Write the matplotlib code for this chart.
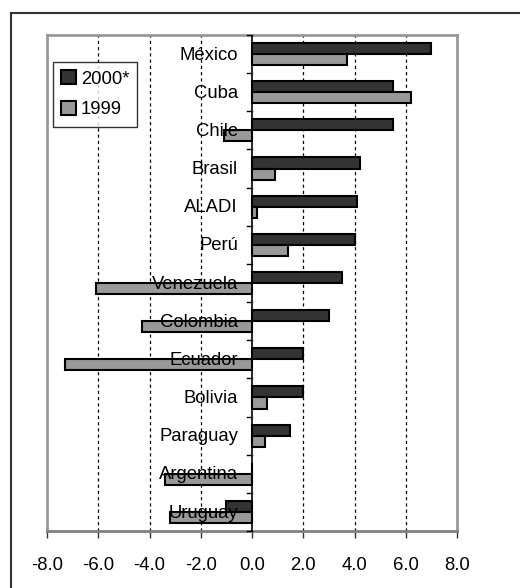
import matplotlib
matplotlib.use("Agg")
import matplotlib.pyplot as plt
from matplotlib.patches import Patch
from matplotlib.lines import Line2D

plt.rcParams['font.family'] = ['Liberation Sans', 'DejaVu Sans']

categories = ["México", "Cuba", "Chile", "Brasil", "ALADI", "Perú", "Venezuela",
              "Colombia", "Ecuador", "Bolivia", "Paraguay", "Argentina", "Uruguay"]
values_2000 = [7.0, 5.5, 5.5, 4.2, 4.1, 4.0, 3.5, 3.0, 2.0, 2.0, 1.5, 0.0, -1.0]
values_1999 = [3.7, 6.2, -1.1, 0.9, 0.2, 1.4, -6.1, -4.3, -7.3, 0.6, 0.5, -3.4, -3.2]
xticks = [-8.0, -6.0, -4.0, -2.0, 0.0, 2.0, 4.0, 6.0, 8.0]
series_names = ["2000*", "1999"]

W, H = 520, 588
fig = plt.figure(figsize=(W / 100, H / 100), dpi=100)
ax = fig.add_axes([47 / W, 1 - 531 / H, (457 - 47) / W, (531 - 35) / H])

dark = "#333333"
light = "#999999"
bh = 0.29
n = len(categories)
ys = list(range(n))
ax.barh([y - bh / 2 for y in ys], values_2000, height=bh, color=dark,
        edgecolor="black", linewidth=1.5, zorder=3)
ax.barh([y + bh / 2 for y in ys], values_1999, height=bh, color=light,
        edgecolor="black", linewidth=1.5, zorder=3)

ax.set_xlim(-8, 8)
ax.set_ylim(n - 0.5, -0.5)

# grid
for x in xticks[1:-1]:
    if x != 0:
        ax.axvline(x, color="black", linestyle=(0, (2.5, 2.5)), linewidth=0.9, zorder=1)

# y axis at zero
ax.axvline(0, color="black", linewidth=1.2, zorder=4)
for b in range(n + 1):
    yb = b - 0.5
    ax.plot([-0.2, 0], [yb, yb], color="black", linewidth=1.0, zorder=4, clip_on=False)

# category labels
for y, c in zip(ys, categories):
    ax.text(-0.55, y + 0.03, c, ha="right", va="center", fontsize=13.3, zorder=5, color="black")

ax.set_yticks([])
ax.set_xticks(xticks)
ax.set_xticklabels([f"{v:.1f}" for v in xticks], fontsize=13.3)
ax.tick_params(axis="x", length=5, width=1.0, color="#333333", pad=14)
for s in ax.spines.values():
    s.set_color("#999999")
    s.set_linewidth(2)
ax.spines['bottom'].set_color("#808080")

handles = [Patch(facecolor=dark, edgecolor="black", linewidth=1.5),
           Patch(facecolor=light, edgecolor="black", linewidth=1.5)]
leg = ax.legend(handles, series_names, loc="upper left",
                bbox_to_anchor=((53 - 47) / 410, (531 - 62) / 496),
                fontsize=13.3, frameon=True, fancybox=False, handlelength=0.8,
                handleheight=0.8, handletextpad=0.25, borderpad=0.45,
                labelspacing=0.7, borderaxespad=0)
leg.get_frame().set_edgecolor("black")
leg.get_frame().set_linewidth(1.0)
leg.set_zorder(6)

# outer frame
fig.add_artist(Line2D([10.5 / W, 10.5 / W], [0, 1 - 13 / H], color="#333333", linewidth=1.5))
fig.add_artist(Line2D([10.5 / W, 1], [1 - 13 / H, 1 - 13 / H], color="#333333", linewidth=1.5))

fig.savefig("out.png", dpi=100)
